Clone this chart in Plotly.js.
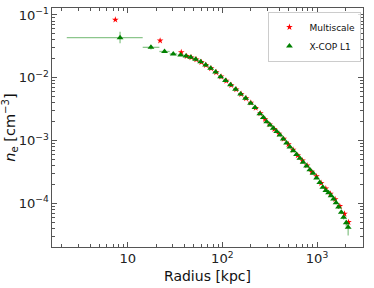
<!DOCTYPE html>
<html><head><meta charset="utf-8">
<script src="https://cdn.plot.ly/plotly-3.0.1.min.js"></script>
<style>html,body{margin:0;padding:0;background:#fff}#c{width:374px;height:288px}</style>
</head><body><div id="c"></div>
<script>
// Multiscale (red stars)
const msRadius = [7.4, 22, 36.8, 42, 47, 53, 60, 67, 76, 86, 97, 110, 124, 140, 158, 178, 200, 225, 252, 282, 316, 354, 397, 445, 499, 559, 626, 702, 786, 881, 987, 1106, 1239, 1388, 1555, 1742, 1952, 2150];
const msDensity = [0.084, 0.039, 0.0255, 0.0221, 0.0210, 0.0195, 0.0177, 0.0159, 0.0141, 0.0122, 0.0104, 0.0089, 0.0076, 0.0065, 0.0055, 0.0047, 0.0040, 0.0033, 0.0027, 0.00218, 0.00180, 0.00152, 0.00128, 0.00106, 0.00087, 0.00071, 0.00058, 0.00048, 0.00040, 0.000318, 0.000268, 0.000210, 0.000172, 0.000142, 0.000116, 0.000090, 0.000068, 0.000050];
const msErr = [0.002, 0.001, 0.0008, 0.0006, 0.0005, 0.0005, 0.0004, 0.0004, 0.0003, 0.0003, 0.0003, 0.0002, 0.0002, 0.00015, 0.00012, 0.0001, 0.0001, 0.00008, 0.00007, 0.00006, 0.00005, 0.00004, 0.00004, 0.00003, 0.00003, 0.00002, 0.00002, 0.000015, 0.000013, 0.000011, 0.00001, 0.000008, 0.000007, 0.000006, 0.000005, 0.000005, 0.000004, 0.000004];

// X-COP L1 (green triangles)
const xcRadius = [8.3, 17.6, 24.5, 30.3, 36.3, 41.3, 46.3, 52.2, 59, 66.6, 75.2, 84.9, 95.9, 108, 122, 138, 156, 176, 199, 221, 249, 271, 294, 319, 345, 375, 406, 440, 477, 517, 561, 608, 659, 714, 776, 840, 910, 990, 1070, 1153, 1240, 1325, 1410, 1496, 1590, 1690, 1807, 1911, 2037, 2134];
const xcDensity = [0.0435, 0.0305, 0.0262, 0.0240, 0.0231, 0.0222, 0.0212, 0.0197, 0.0179, 0.0160, 0.0142, 0.0123, 0.0104, 0.0090, 0.0077, 0.00655, 0.00552, 0.00472, 0.00393, 0.00337, 0.00268, 0.00232, 0.00200, 0.00177, 0.00157, 0.00139, 0.00123, 0.00106, 0.00091, 0.00079, 0.00069, 0.00060, 0.00052, 0.00045, 0.000394, 0.000343, 0.000300, 0.000252, 0.000214, 0.000180, 0.000160, 0.000147, 0.000132, 0.000117, 0.000102, 0.000087, 0.000072, 0.000060, 0.0000488, 0.0000416];
const xcErrPlus = [0.0107, 0.0025, 0.0015, 0.0010, 0.0008, 0.0007, 0.0006, 0.0006, 0.0005, 0.0004, 0.0004, 0.0003, 0.0003, 0.0002, 0.0002, 0.00015, 0.00012, 0.0001, 0.00009, 0.00008, 0.00006, 0.00005, 0.00005, 0.00004, 0.00004, 0.00003, 0.00003, 0.00003, 0.00002, 0.00002, 0.00002, 0.000015, 0.000013, 0.000012, 0.00001, 0.00001, 0.000009, 0.000008, 0.000007, 0.000006, 0.000006, 0.000006, 0.000005, 0.000005, 0.000005, 0.000005, 0.000005, 0.000005, 0.000006, 0.000008];
const xcErrMinus = [0.0081, 0.0022, 0.0013, 0.0009, 0.0007, 0.0006, 0.0006, 0.0005, 0.0005, 0.0004, 0.0004, 0.0003, 0.0003, 0.0002, 0.0002, 0.00015, 0.00012, 0.0001, 0.00009, 0.00008, 0.00006, 0.00005, 0.00005, 0.00004, 0.00004, 0.00003, 0.00003, 0.00003, 0.00002, 0.00002, 0.00002, 0.000015, 0.000013, 0.000012, 0.00001, 0.00001, 0.000009, 0.000008, 0.000007, 0.000006, 0.000006, 0.000006, 0.000005, 0.000005, 0.000005, 0.000005, 0.000005, 0.000005, 0.000006, 0.000011];
const xcRadErrMinus = [6.03, 3.2, 2.9, 2.6, 2.6, 2.4, 2.5, 2.8, 3.2, 3.6, 4.1, 4.5, 5.2, 5.8, 6.5, 7.5, 8.5, 9.5, 10.5, 11, 12, 11, 12, 12, 13, 14, 15, 16, 18, 19, 21, 23, 25, 27, 29, 31, 34, 37, 40, 42, 43, 43, 43, 43, 47, 50, 56, 52, 60, 50];
const xcRadErrPlus = [6.1, 4.0, 3.3, 2.9, 2.6, 2.4, 2.5, 2.8, 3.2, 3.6, 4.1, 4.5, 5.2, 5.8, 6.5, 7.5, 8.5, 9.5, 10.5, 11, 12, 11, 12, 12, 13, 14, 15, 16, 18, 19, 21, 23, 25, 27, 29, 31, 34, 37, 40, 42, 43, 43, 43, 43, 47, 50, 56, 52, 60, 50];

const data = [
  {
    x: msRadius, y: msDensity, name: 'Multiscale', type: 'scatter', mode: 'markers',
    marker: {symbol: 'star', color: 'red', size: 5},
    error_y: {type: 'data', array: msErr, visible: true, color: 'rgba(255,0,0,0.5)', thickness: 1, width: 0}
  },
  {
    x: xcRadius, y: xcDensity, name: 'X-COP L1', type: 'scatter', mode: 'markers',
    marker: {symbol: 'triangle-up', color: 'green', size: 6},
    error_y: {type: 'data', symmetric: false, array: xcErrPlus, arrayminus: xcErrMinus, visible: true, color: 'rgba(0,128,0,0.45)', thickness: 1.3, width: 0},
    error_x: {type: 'data', symmetric: false, array: xcRadErrPlus, arrayminus: xcRadErrMinus, visible: true, color: 'rgba(0,128,0,0.45)', thickness: 1.3, width: 0}
  }
];

const axisCommon = {
  type: 'log', showgrid: false, zeroline: false, showline: true, mirror: 'ticks',
  linecolor: '#555', linewidth: 1, ticks: 'inside', ticklen: 5, tickcolor: '#555', tickwidth: 1,
  dtick: 1, exponentformat: 'power', showexponent: 'all',
  tickfont: {family: 'DejaVu Sans', size: 10.5, color: '#222'},
  minor: {ticks: 'inside', ticklen: 3, tickcolor: '#555', dtick: 'D1', showgrid: false}
};

const layout = {
  width: 374, height: 288,
  margin: {l: 52, r: 11, t: 8, b: 41},
  paper_bgcolor: '#fff', plot_bgcolor: '#fff',
  font: {family: 'DejaVu Sans', color: '#111'},
  xaxis: Object.assign({}, axisCommon, {
    range: [0.20, 3.486],
    title: {text: 'Radius [kpc]', font: {family: 'DejaVu Sans', size: 14, color: '#111'}, standoff: 5}
  }),
  yaxis: Object.assign({}, axisCommon, {
    range: [-4.696, -0.889],
    title: {text: '<i>n</i><sub>e</sub> [cm<sup>−3</sup>]', font: {family: 'DejaVu Sans', size: 14.5, color: '#111'}, standoff: 3}
  }),
  showlegend: true,
  legend: {
    x: 0.995, y: 0.985, xanchor: 'right', yanchor: 'top',
    bgcolor: 'rgba(255,255,255,0.8)', bordercolor: '#ccc', borderwidth: 1,
    font: {family: 'DejaVu Sans', size: 9, color: '#111'},
    itemwidth: 30, tracegroupgap: 0
  }
};

Plotly.newPlot('c', data, layout, {displayModeBar: false, staticPlot: true});
</script>
</body></html>
